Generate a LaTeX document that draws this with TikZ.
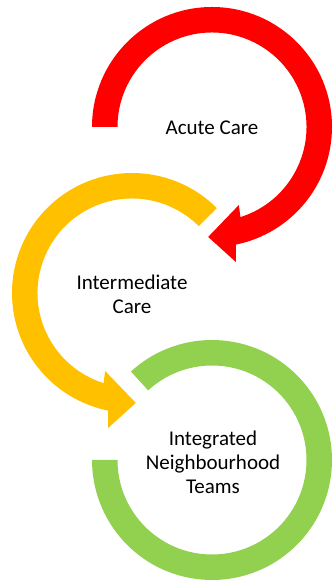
\documentclass[tikz,border=0pt]{standalone}
\usepackage{fontspec}
\setmainfont{Carlito}
\definecolor{redc}{HTML}{FF0000}
\definecolor{yelc}{HTML}{FFC000}
\definecolor{grnc}{HTML}{92D050}
\begin{document}
\begin{tikzpicture}[x=1pt,y=1pt,
  lbl/.style={font=\fontsize{21}{24}\selectfont, align=center, text=black, inner sep=0pt}]
\useasboundingbox (0,0) rectangle (332,580);
% red (acute care)
\begin{scope}[shift={(212,453)}]
\fill[redc] (180:120pt) arc[start angle=180,end angle=-78.5,radius=120pt]
  -- (-80:137pt) -- (-92:110pt) -- (-71:82.5pt) -- (-72.5:94.5pt)
  arc[start angle=-72.5,end angle=180,radius=94.5pt] -- cycle;
\end{scope}
% yellow (intermediate care)
\begin{scope}[shift={(132,287)}]
\fill[yelc] (45:120pt) arc[start angle=45,end angle=258.5,radius=120pt]
  -- (260:137pt) -- (272:110pt) -- (251:82.5pt) -- (252.5:94.5pt)
  arc[start angle=252.5,end angle=45,radius=94.5pt] -- cycle;
\end{scope}
% green (integrated neighbourhood teams)
\begin{scope}[shift={(212,120)}]
\fill[grnc] (132.5:120pt) arc[start angle=132.5,end angle=-180,radius=120pt]
  -- (180:94.5pt) arc[start angle=-180,end angle=132.5,radius=94.5pt] -- cycle;
\end{scope}
\node[lbl] (acute) at (212,452) {Acute Care};
\node[lbl] (inter) at (132,286) {Intermediate\\Care};
\node[lbl] (integ) at (213,118) {Integrated\\Neighbourhood\\Teams};
\end{tikzpicture}
\end{document}
